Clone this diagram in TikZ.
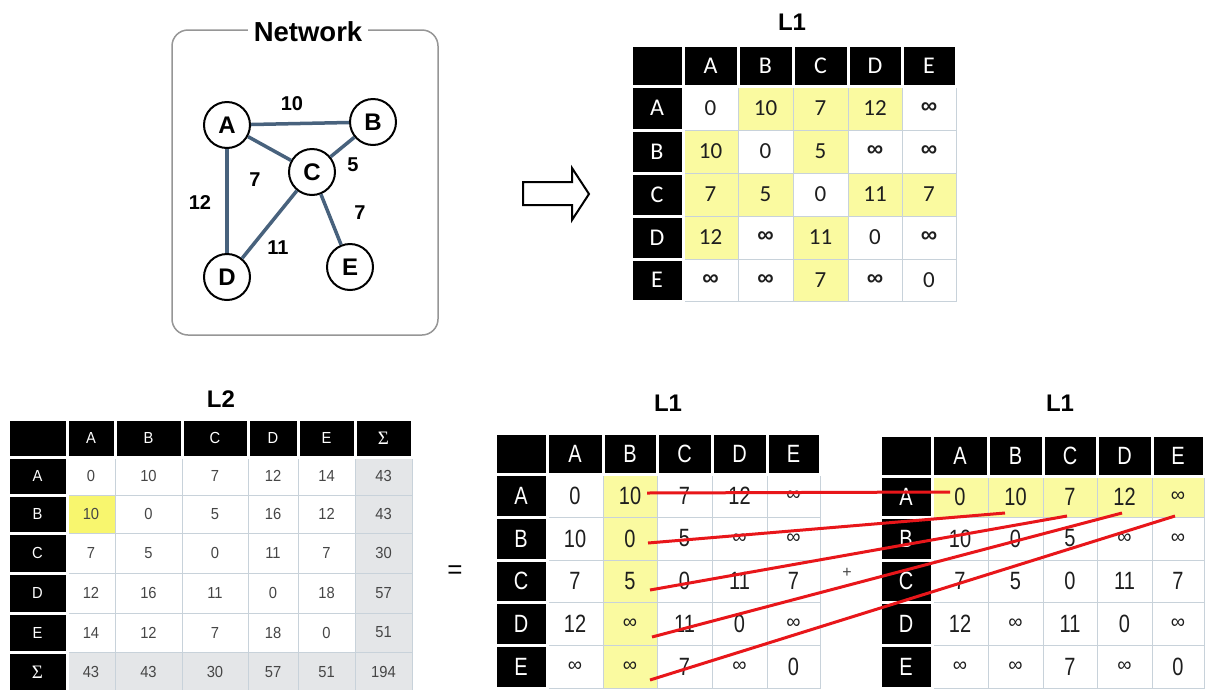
\documentclass[tikz,border=0pt]{standalone}
\usepackage{fontspec}
\setmainfont{Liberation Sans}
\newfontfamily\calib{Carlito}
\newfontfamily\narrowf[FakeStretch=0.8]{Liberation Sans}
\newfontfamily\smallf[FakeStretch=0.92]{Liberation Sans}
\newfontfamily\libs{Liberation Sans}
\newfontfamily\sergr{Liberation Serif}
\newcommand\infL{{\libs\fontsize{20}{24}\selectfont ∞}}
\newcommand\infB{{\libs\bfseries ∞}}
\newcommand\sig{{\sergr\fontsize{19}{22}\selectfont Σ}}
\definecolor{yel}{RGB}{250,250,160}
\definecolor{yelb}{RGB}{248,246,110}
\definecolor{gry}{RGB}{228,230,232}
\definecolor{bord}{RGB}{200,210,218}
\definecolor{edgec}{RGB}{72,98,125}
\definecolor{redc}{RGB}{232,22,26}
\definecolor{txt}{RGB}{30,30,30}
\definecolor{txtb}{RGB}{70,70,70}
\definecolor{boxgray}{RGB}{150,150,150}
\tikzset{
  hdr/.style={fill=black, draw=white, line width=3pt, inner sep=0pt, text=white},
  dat/.style={draw=bord, line width=1pt, inner sep=0pt},
  thdr/.style={hdr, font=\calib\fontsize{24}{28}\selectfont},
  tdat/.style={text=txt, font=\calib\fontsize{23}{27}\selectfont},
  bhdr/.style={hdr, font=\narrowf\fontsize{25}{30}\selectfont},
  bdat/.style={text=txt, font=\narrowf\fontsize{25}{30}\selectfont},
  lhdr/.style={hdr, font=\smallf\fontsize{16}{19}\selectfont},
  ldat/.style={text=txtb, font=\smallf\fontsize{16}{19}\selectfont},
  ttl/.style={font=\bfseries\fontsize{24}{28}\selectfont},
  vtx/.style={circle, draw=black, line width=2pt, fill=white, minimum size=46pt, inner sep=0pt, font=\bfseries\fontsize{24}{28}\selectfont},
  edg/.style={draw=edgec, line width=3.5pt},
  elab/.style={font=\bfseries\fontsize{20}{24}\selectfont},
  redline/.style={draw=redc, line width=3pt},
}
% #1 prefix, #2 X array, #3 Y array, #4 column labels, #5 row labels, #6 data rows, #7 header style, #8 data style
\newcommand\mktable[8]{%
  \foreach \cells [count=\r] in {#6} {
    \foreach \v/\f [count=\c] in \cells {
      \pgfmathsetmacro\xa{#2[\c]}
      \pgfmathsetmacro\xb{#2[\c+1]}
      \pgfmathsetmacro\ya{#3[\r]}
      \pgfmathsetmacro\yb{#3[\r+1]}
      \node[dat, #8, fill=\f, minimum width=\xb-\xa, minimum height=\yb-\ya]
        (#1-\r-\c) at ({(\xa+\xb)/2},{(\ya+\yb)/2}) {\v};
    }
  }
  \foreach \h [count=\c from 0] in {#4} {
    \pgfmathsetmacro\xa{#2[\c]}
    \pgfmathsetmacro\xb{#2[\c+1]}
    \pgfmathsetmacro\ya{#3[0]}
    \pgfmathsetmacro\yb{#3[1]}
    \node[#7, minimum width=\xb-\xa, minimum height=\yb-\ya]
      (#1-0-\c) at ({(\xa+\xb)/2},{(\ya+\yb)/2}) {\h};
  }
  \foreach \h [count=\r] in {#5} {
    \pgfmathsetmacro\xa{#2[0]}
    \pgfmathsetmacro\xb{#2[1]}
    \pgfmathsetmacro\ya{#3[\r]}
    \pgfmathsetmacro\yb{#3[\r+1]}
    \node[#7, minimum width=\xb-\xa, minimum height=\yb-\ya]
      (#1-\r-0) at ({(\xa+\xb)/2},{(\ya+\yb)/2}) {\h};
  }
}
\def\TX{{631,683,738,793,848,902,956}}
\def\TY{{45,86,130,173,216,259,301}}
\def\MX{{495,547,603,657,712,767,820}}
\def\MY{{433,474,517,560,602,645,688}}
\def\RX{{880,932,988,1043,1097,1152,1204}}
\def\RY{{435,476,517,560,602,645,688}}
\def\LX{{8,67,115,182,248,298,355,412}}
\def\LY{{419,457,495,533,573,613,652,692}}
\begin{document}
\begin{tikzpicture}[x=1pt,y=-1pt]
\fill[white] (0,0) rectangle (1205,689);
\useasboundingbox (0,0) rectangle (1205,689);

% ---------- Network ----------
\node[draw=boxgray, line width=1.5pt, rounded corners=16pt, minimum width=266pt, minimum height=305pt, inner sep=0pt] (netbox) at (305,182.5) {};
\node[fill=white, font=\bfseries\fontsize{27.5}{31}\selectfont, inner xsep=6pt, inner ysep=1pt] (nettitle) at (308,32) {Network};
\node[vtx] (A) at (227,125) {A};
\node[vtx] (B) at (373,122) {B};
\node[vtx] (C) at (312,172) {C};
\node[vtx] (D) at (227,277) {D};
\node[vtx] (E) at (350,267) {E};
\draw[edg] (A) -- (B);
\draw[edg] (A) -- (C);
\draw[edg] (A) -- (D);
\draw[edg] (B) -- (C);
\draw[edg] (C) -- (D);
\draw[edg] (C) -- (E);
\node[elab] (lab) at (292,104) {10};
\node[elab] (lbc) at (353,165) {5};
\node[elab] (lac) at (255,180) {7};
\node[elab] (lad) at (200,203) {12};
\node[elab] (lce) at (360,213) {7};
\node[elab] (lcd) at (278,248) {11};

% ---------- arrow ----------
\draw[line width=2pt, line join=miter, fill=white] (523,182) -- (572,182) -- (572,168) -- (589,194) -- (572,220) -- (572,205) -- (523,205) -- cycle;

% ---------- top L1 ----------
\node[ttl] (tt) at (792,22) {L1};
\mktable{T}{\TX}{\TY}{{},A,B,C,D,E}{A,B,C,D,E}{
 {0/white,10/yel,7/yel,12/yel,\infB/white},
 {10/yel,0/white,5/yel,\infB/white,\infB/white},
 {7/yel,5/yel,0/white,11/yel,7/yel},
 {12/yel,\infB/white,11/yel,0/white,\infB/white},
 {\infB/white,\infB/white,7/yel,\infB/white,0/white}}{thdr}{tdat}

% ---------- L2 ----------
\node[ttl] (lt) at (221,399) {L2};
\mktable{L}{\LX}{\LY}{{},A,B,C,D,E,\sig}{A,B,C,D,E,\sig}{
 {0/white,10/white,7/white,12/white,14/white,43/gry},
 {10/yelb,0/white,5/white,16/white,12/white,43/gry},
 {7/white,5/white,0/white,11/white,7/white,30/gry},
 {12/white,16/white,11/white,0/white,18/white,57/gry},
 {14/white,12/white,7/white,18/white,0/white,51/gry},
 {43/gry,43/gry,30/gry,57/gry,51/gry,194/gry}}{lhdr}{ldat}

% ---------- bottom middle L1 ----------
\node[ttl] (mt) at (668,403) {L1};
\mktable{M}{\MX}{\MY}{{},A,B,C,D,E}{A,B,C,D,E}{
 {0/white,10/yel,7/white,12/white,\infL/white},
 {10/white,0/yel,5/white,\infL/white,\infL/white},
 {7/white,5/yel,0/white,11/white,7/white},
 {12/white,\infL/yel,11/white,0/white,\infL/white},
 {\infL/white,\infL/yel,7/white,\infL/white,0/white}}{bhdr}{bdat}

% ---------- bottom right L1 ----------
\node[ttl] (rt) at (1060,403) {L1};
\mktable{R}{\RX}{\RY}{{},A,B,C,D,E}{A,B,C,D,E}{
 {0/yel,10/yel,7/yel,12/yel,\infL/yel},
 {10/white,0/white,5/white,\infL/white,\infL/white},
 {7/white,5/white,0/white,11/white,7/white},
 {12/white,\infL/white,11/white,0/white,\infL/white},
 {\infL/white,\infL/white,7/white,\infL/white,0/white}}{bhdr}{bdat}

% ---------- operators ----------
\node[font=\fontsize{26}{30}\selectfont] (eq) at (455,572) {=};
\node[font=\fontsize{16}{20}\selectfont, text=txtb] (plus) at (847,573) {+};

% ---------- red lines ----------
\coordinate (s1) at (647,493);  \coordinate (e1) at (950,492);
\coordinate (s2) at (648,543);  \coordinate (e2) at (1005,513);
\coordinate (s3) at (650,590);  \coordinate (e3) at (1067,516);
\coordinate (s4) at (652,637);  \coordinate (e4) at (1122,513);
\coordinate (s5) at (650,680);  \coordinate (e5) at (1175,516);
\draw[redline] (s1) -- (e1);
\draw[redline] (s2) -- (e2);
\draw[redline] (s3) -- (e3);
\draw[redline] (s4) -- (e4);
\draw[redline] (s5) -- (e5);
\end{tikzpicture}
\end{document}
